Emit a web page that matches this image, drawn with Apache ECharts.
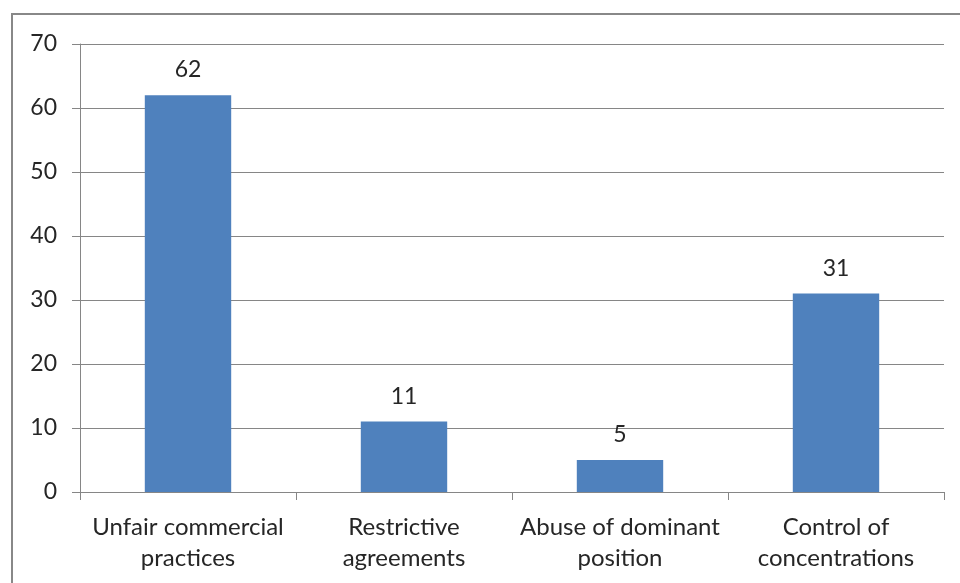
<!DOCTYPE html>
<html><head><meta charset="utf-8">
<script src="https://cdn.jsdelivr.net/npm/echarts@6/dist/echarts.min.js"></script>
<style>html,body{margin:0;padding:0;background:#fff}#c{width:960px;height:583px}</style>
</head><body><div id="c"></div>
<script>
const categories = ["Unfair commercial\npractices", "Restrictive\nagreements", "Abuse of dominant\nposition", "Control of\nconcentrations"];
const values = [62, 11, 5, 31];
const yMin = 0, yMax = 70, yStep = 10;

const chart = echarts.init(document.getElementById('c'), null, {renderer: 'canvas'});
const font = 'Lato, Arial, sans-serif';
chart.setOption({
  animation: false,
  graphic: [{type: 'rect', shape: {x: 12, y: 14, width: 1000, height: 700}, style: {fill: 'none', stroke: '#888', lineWidth: 2}}],
  grid: {left: 80, right: 16, top: 44, bottom: 91, containLabel: false},
  xAxis: {
    type: 'category', data: categories,
    axisLine: {lineStyle: {color: '#868686', width: 1}},
    axisTick: {show: true, length: 8, lineStyle: {color: '#868686'}},
    axisLabel: {color: '#262626', fontFamily: font, fontSize: 24, lineHeight: 31, margin: 20, interval: 0}
  },
  yAxis: {
    type: 'value', min: yMin, max: yMax, interval: yStep,
    axisLine: {show: true, lineStyle: {color: '#868686'}},
    axisTick: {show: true, length: 8, lineStyle: {color: '#868686'}},
    splitLine: {lineStyle: {color: '#868686'}},
    axisLabel: {color: '#262626', fontFamily: font, fontSize: 23, margin: 23}
  },
  series: [{
    type: 'bar', data: values, barWidth: '40%',
    itemStyle: {color: '#4F81BD'},
    label: {show: true, position: 'top', distance: 14, color: '#262626', fontFamily: font, fontSize: 23}
  }]
});
</script></body></html>
